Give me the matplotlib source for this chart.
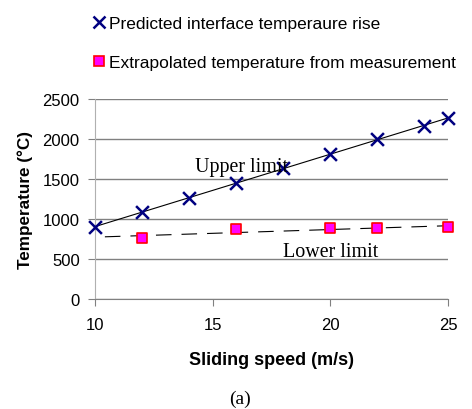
import numpy as np
import matplotlib
matplotlib.use("Agg")
import matplotlib.pyplot as plt
from matplotlib.lines import Line2D

plt.rcParams.update({"font.family": "sans-serif", "font.sans-serif": ["Liberation Sans"]})

# predicted interface temperature rise
speed_pred = [10, 12, 14, 16, 18, 20, 22, 24, 25]
temp_pred = [900, 1080, 1265, 1443, 1638, 1804, 1990, 2156, 2260]
# extrapolated from measurement
speed_meas = [12, 16, 20, 22, 25]
temp_meas = [755, 871, 883, 883, 892]

xticks = [10, 15, 20, 25]
yticks = [0, 500, 1000, 1500, 2000, 2500]

fig = plt.figure(figsize=(4.72, 4.10), dpi=100)
ax = fig.add_axes([95/472, 1-300/410, (448-95)/472, (300-99.5)/410])

# trend lines (linear fits)
p_up = np.polyfit(speed_pred, temp_pred, 1)
xs = np.array([10, 25])
ax.plot(xs, np.polyval(p_up, xs), color='black', lw=0.8, zorder=2)
p_lo = np.polyfit(speed_meas, temp_meas, 1)
xs2 = np.array([10.42, 25])
ax.plot(xs2, np.polyval(p_lo, xs2), color='black', lw=0.8, dashes=(14, 9), zorder=2)

ax.scatter(speed_pred, temp_pred, marker='x', s=85, color='#000080', linewidths=1.8, zorder=3, clip_on=False)
ax.scatter(speed_meas, temp_meas, marker='s', s=55, facecolor='#ff00ff', edgecolor='#ff0000', linewidths=1.2, zorder=3, clip_on=False)

ax.set_xlim(10, 25)
ax.set_ylim(0, 2500)
ax.set_xticks(xticks)
ax.set_yticks(yticks)
ax.grid(axis='y', color='#808080', lw=1)
ax.set_axisbelow(True)
for s in ['top', 'right']:
    ax.spines[s].set_visible(False)
ax.spines['left'].set_color('#b0b0b0')
ax.spines['bottom'].set_color('#808080')
ax.tick_params(axis='y', length=5, color='#808080', labelsize=12, pad=6)
ax.tick_params(axis='x', length=5, color='#808080', labelsize=12, pad=8)

ax.set_xlabel('Sliding speed (m/s)', fontsize=13, fontweight='bold', labelpad=14)
ax.set_ylabel('Temperature (°C)', fontsize=12.3, fontweight='bold', labelpad=7)

ax.text(14.25, 1655, 'Upper limit', family='Liberation Serif', fontsize=14.4, va='center', ha='left')
ax.text(20.03, 597, 'Lower limit', family='Liberation Serif', fontsize=14.4, va='center', ha='center')

handles = [
    Line2D([], [], ls='none', marker='x', ms=9, mew=1.8, color='#000080'),
    Line2D([], [], ls='none', marker='s', ms=7, mfc='#ff00ff', mec='#ff0000', mew=1.2),
]
fig.legend(handles, ['Predicted interface temperaure rise', 'Extrapolated temperature from measurement'],
           loc='upper left', bbox_to_anchor=(83/472, 1-8/410), frameon=False, fontsize=12.5,
           handlelength=0.8, handletextpad=0.2, labelspacing=1.4, borderpad=0)

fig.text(240/472, 1-399/410, '(a)', family='Liberation Serif', fontsize=14, ha='center', va='center')

fig.savefig('out.png', dpi=100)
